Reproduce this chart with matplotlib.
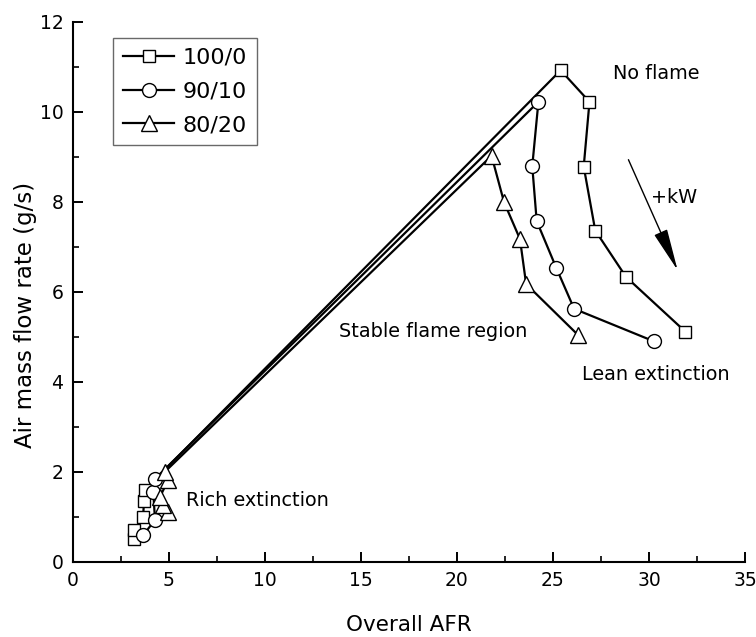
import numpy as np
import matplotlib
matplotlib.use("Agg")
import matplotlib.pyplot as plt

# 100/0 blend
afr_100 = [3.2, 3.2, 3.65, 3.7, 3.75, 25.4, 26.9, 26.6, 27.2, 28.8, 31.9]
air_100 = [0.5, 0.7, 1.0, 1.35, 1.6, 10.92, 10.22, 8.78, 7.36, 6.33, 5.11]
# 90/10 blend
afr_90 = [3.66, 4.27, 4.18, 4.27, 24.24, 23.92, 24.15, 25.17, 26.1, 30.24]
air_90 = [0.59, 0.93, 1.56, 1.84, 10.22, 8.79, 7.57, 6.53, 5.62, 4.9]
# 80/20 blend
afr_80 = [4.96, 4.7, 4.53, 4.96, 4.79, 21.8, 22.45, 23.28, 23.6, 26.3]
air_80 = [1.11, 1.26, 1.44, 1.82, 2.0, 9.02, 7.99, 7.17, 6.17, 5.04]

labels = ["100/0", "90/10", "80/20"]

plt.rcParams['font.family'] = ['DejaVu Sans']

fig = plt.figure(figsize=(7.56, 6.37), dpi=100)
ax = fig.add_axes([73/756, 1 - 561.7/637, (745-73)/756, (561.7-21.7)/637])

mk = dict(color='black', lw=1.6, mfc='white', mec='black', mew=1.0)
ax.plot(afr_100, air_100, marker='s', ms=9, label=labels[0], **mk)
ax.plot(afr_90, air_90, marker='o', ms=10, label=labels[1], **mk)
ax.plot(afr_80, air_80, marker='^', ms=11, label=labels[2], **mk)

ax.set_xlim(0, 35)
ax.set_ylim(0, 12)
ax.set_xticks(np.arange(0, 36, 5))
ax.set_yticks(np.arange(0, 13, 2))
ax.set_xticks(np.arange(2.5, 35, 5), minor=True)
ax.set_yticks(np.arange(1, 12, 2), minor=True)
ax.tick_params(which='major', direction='in', length=7, width=1.4, labelsize=13.5, pad=7)
ax.tick_params(which='minor', direction='in', length=4, width=1.2)
for s in ['top', 'right']:
    ax.spines[s].set_visible(False)
for s in ['left', 'bottom']:
    ax.spines[s].set_linewidth(1.5)

ax.set_xlabel("Overall AFR", fontsize=15.5)
ax.set_ylabel("Air mass flow rate (g/s)", fontsize=16.5)
ax.xaxis.set_label_coords(0.5, -0.117)
ax.yaxis.set_label_coords(-0.0714, 0.457)
ax.xaxis.label.set_va('center')
ax.yaxis.label.set_va('center')

fs = 13.9
ax.text(30.4, 10.84, "No flame", fontsize=fs, ha='center', va='center')
ax.text(31.3, 8.1, "+kW", fontsize=fs, ha='center', va='center')
ax.annotate("", xy=(31.55, 6.42), xytext=(28.87, 8.99),
            arrowprops=dict(arrowstyle='-|>,head_length=1.2,head_width=0.2',
                            color='black', lw=1.0, mutation_scale=22))
ax.text(18.78, 5.11, "Stable flame region", fontsize=fs, ha='center', va='center')
ax.text(30.35, 4.15, "Lean extinction", fontsize=fs, ha='center', va='center')
ax.text(9.6, 1.37, "Rich extinction", fontsize=fs, ha='center', va='center')

leg = ax.legend(loc='upper left', bbox_to_anchor=(40/672, 1 - 16/540),
                fontsize=16, frameon=True, fancybox=False, edgecolor='#444444',
                handlelength=2.3, handletextpad=0.4, borderpad=0.45,
                labelspacing=0.62, borderaxespad=0)
leg.get_frame().set_linewidth(1.0)

fig.savefig("out.png", dpi=100)
